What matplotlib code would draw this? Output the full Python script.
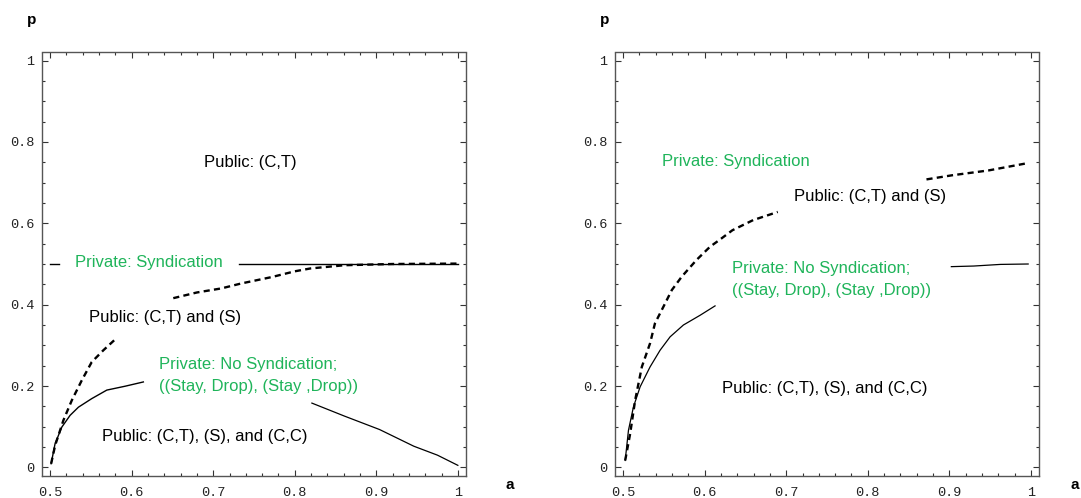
import matplotlib.pyplot as plt
from matplotlib.ticker import MultipleLocator

green = '#1fb45a'

# ---- left panel data ----
L_syn1_a = [0.500, 0.511]
L_syn1_p = [0.500, 0.500]
L_syn2_a = [0.732, 1.000]
L_syn2_p = [0.500, 0.500]

L_dash1_a = [0.5012, 0.5061, 0.5163, 0.5266, 0.5388, 0.551, 0.5653, 0.581]
L_dash1_p = [0.009, 0.054, 0.116, 0.165, 0.214, 0.259, 0.288, 0.317]
L_dash2_a = [0.651, 0.680, 0.710, 0.734, 0.772, 0.800, 0.819, 0.861, 0.920, 1.000]
L_dash2_p = [0.416, 0.430, 0.440, 0.452, 0.468, 0.482, 0.489, 0.497, 0.500, 0.501]

L_low_a = [0.5012, 0.506, 0.5143, 0.5245, 0.5347, 0.551, 0.5695, 0.5919, 0.6143]
L_low_p = [0.009, 0.058, 0.099, 0.128, 0.148, 0.169, 0.190, 0.1995, 0.210]

L_desc_a = [0.821, 0.861, 0.904, 0.946, 0.975, 1.000]
L_desc_p = [0.158, 0.126, 0.093, 0.052, 0.030, 0.005]

# ---- right panel data ----
R_dash1_a = [0.5025, 0.5086, 0.5147, 0.5229, 0.533, 0.539, 0.5494, 0.5597,
             0.5719, 0.590, 0.6066, 0.618, 0.634, 0.6595, 0.6896]
R_dash1_p = [0.017, 0.083, 0.165, 0.247, 0.305, 0.354, 0.395, 0.436,
             0.469, 0.510, 0.5426, 0.559, 0.583, 0.608, 0.628]
R_dash2_a = [0.872, 0.903, 0.948, 0.996]
R_dash2_p = [0.708, 0.718, 0.730, 0.748]

R_low_a = [0.5025, 0.5065, 0.5126, 0.5208, 0.533, 0.5453, 0.5576, 0.5739,
           0.5944, 0.6127]
R_low_p = [0.017, 0.091, 0.1485, 0.198, 0.247, 0.288, 0.321, 0.350,
           0.374, 0.397]

R_top_a = [0.9025, 0.930, 0.9627, 0.9967]
R_top_p = [0.4935, 0.495, 0.499, 0.500]

W, H = 1081, 498
fig = plt.figure(figsize=(W / 100, H / 100), dpi=100)

ax1 = fig.add_axes([42 / W, (H - 475.5) / H, 424 / W, 423 / H])
ax2 = fig.add_axes([615 / W, (H - 475.5) / H, 424 / W, 423 / H])

for ax in (ax1, ax2):
    ax.set_xlim(0.49, 1.01)
    ax.set_ylim(-0.02, 1.02)
    ax.xaxis.set_minor_locator(MultipleLocator(0.02))
    ax.yaxis.set_minor_locator(MultipleLocator(0.05))
    ax.set_xticks([0.5, 0.6, 0.7, 0.8, 0.9, 1.0])
    ax.set_xticklabels(['0.5', '0.6', '0.7', '0.8', '0.9', '1'])
    ax.set_yticks([0, 0.2, 0.4, 0.6, 0.8, 1.0])
    ax.set_yticklabels(['0', '0.2', '0.4', '0.6', '0.8', '1'])
    ax.tick_params(which='both', direction='in', top=True, right=True,
                   color='#333333', width=0.8)
    ax.tick_params(which='major', length=4, labelsize=9.7,
                   labelcolor='#222222')
    ax.tick_params(axis='x', which='major', pad=8)
    ax.tick_params(axis='y', which='major', pad=5.5)
    ax.tick_params(which='minor', length=2.5)
    for lab in ax.get_xticklabels() + ax.get_yticklabels():
        lab.set_family('Liberation Mono')
    for sp in ax.spines.values():
        sp.set_color('#555555')
        sp.set_linewidth(1.0)

dash = (0, (2.6, 1.8))

# left panel
ax1.plot(L_syn1_a, L_syn1_p, color='black', lw=1.0)
ax1.plot(L_syn2_a, L_syn2_p, color='black', lw=1.0)
ax1.plot(L_dash1_a, L_dash1_p, color='black', lw=1.7, ls=dash)
ax1.plot(L_dash2_a, L_dash2_p, color='black', lw=1.7, ls=dash)
ax1.plot(L_low_a, L_low_p, color='black', lw=1.0)
ax1.plot(L_desc_a, L_desc_p, color='black', lw=0.9)

tkw = dict(family='Liberation Sans', fontsize=12)
ax1.text(0.745, 0.75, 'Public: (C,T)', ha='center', va='center', **tkw)
ax1.text(0.6205, 0.504, 'Private: Syndication', ha='center', va='center',
         color=green, **tkw)
ax1.text(0.641, 0.368, 'Public: (C,T) and (S)', ha='center', va='center', **tkw)
ax1.text(0.633, 0.252, 'Private: No Syndication;', ha='left', va='center',
         color=green, **tkw)
ax1.text(0.633, 0.199, '((Stay, Drop), (Stay ,Drop))', ha='left', va='center',
         color=green, **tkw)
ax1.text(0.690, 0.077, 'Public: (C,T), (S), and (C,C)', ha='center', va='center',
         **tkw)

# right panel
ax2.plot(R_dash1_a, R_dash1_p, color='black', lw=1.7, ls=dash)
ax2.plot(R_dash2_a, R_dash2_p, color='black', lw=1.7, ls=dash)
ax2.plot(R_low_a, R_low_p, color='black', lw=0.9)
ax2.plot(R_top_a, R_top_p, color='black', lw=0.9)

ax2.text(0.6384, 0.751, 'Private: Syndication', ha='center', va='center',
         color=green, **tkw)
ax2.text(0.8024, 0.665, 'Public: (C,T) and (S)', ha='center', va='center', **tkw)
ax2.text(0.633, 0.489, 'Private: No Syndication;', ha='left', va='center',
         color=green, **tkw)
ax2.text(0.633, 0.436, '((Stay, Drop), (Stay ,Drop))', ha='left', va='center',
         color=green, **tkw)
ax2.text(0.7468, 0.195, 'Public: (C,T), (S), and (C,C)', ha='center', va='center',
         **tkw)

# axis letters
lkw = dict(family='Liberation Sans', fontsize=11, fontweight='bold',
           ha='center', va='center')
fig.text(32 / W, 1 - 20 / H, 'p', **lkw)
fig.text(605 / W, 1 - 20 / H, 'p', **lkw)
fig.text(510 / W, 1 - 485 / H, 'a', **lkw)
fig.text(1075 / W, 1 - 485 / H, 'a', **lkw)

fig.savefig('out.png', dpi=100)
